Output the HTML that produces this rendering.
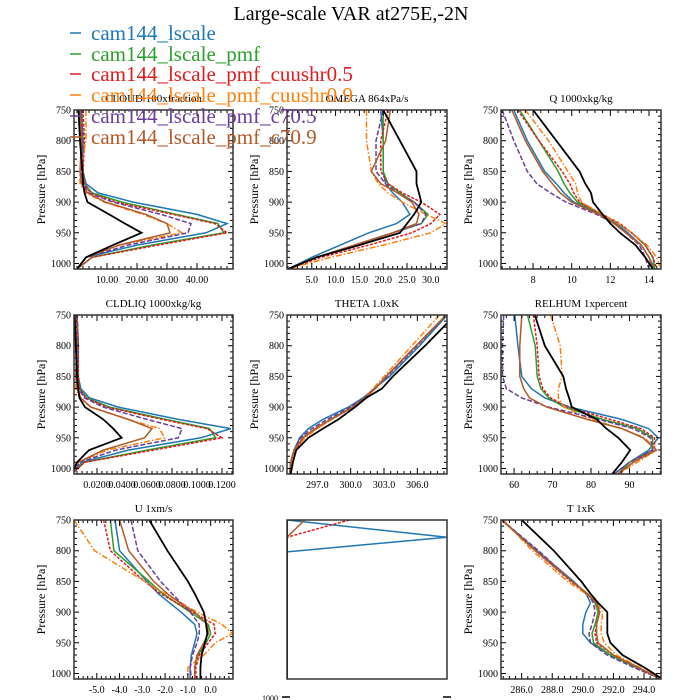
<!DOCTYPE html>
<html><head><meta charset="utf-8"><style>
html,body{margin:0;padding:0;background:#fff;}
svg{display:block;font-family:"Liberation Serif",serif;}
</style></head><body>
<svg id="fig" width="700" height="700" viewBox="0 0 700 700" xmlns="http://www.w3.org/2000/svg">
<text x="351" y="20" font-size="20" text-anchor="middle">Large-scale VAR at275E,-2N</text>
<text x="270" y="701" font-size="8" text-anchor="middle">1000</text>
<path d="M282,697h8M443,697h8" stroke="#000" stroke-width="1.5"/>
</svg>
<script>
const levels = [750,800,850,870,885,900,920,935,950,970,990,1009];
const seriesNames = ["cam144_lscale","cam144_lscale_pmf","cam144_lscale_pmf_cuushr0.5","cam144_lscale_pmf_cuushr0.9","cam144_lscale_pmf_c70.5","cam144_lscale_pmf_c70.9","obs"];
const cloudVals = [
 [1,1.5,2,3,7,18.7,40,50,43,20,3,0],
 [1.5,2,2,2.5,5,15,33,47,49,25,5,0],
 [2,2.5,2,2.5,4.5,13,32,46,50,27,5,0],
 [3,3,1,1,3,9,22,30,35,14,3,0],
 [1.5,2,1.5,2,4,12,28,38,37,17,3,0],
 [1,1.5,1,1.5,3.5,9.5,23,30,31,14,3,0],
 [0.5,1,1.8,2,2.5,3.5,10.7,16,21.5,12,3,0]];
const omegaVals = [
 [19.5,20,20,20.5,22,24,25.6,22.8,17,11,5,0],
 [20,20,20,21,23.5,26.5,29.4,28,22,14,6,0],
 [21,19.5,19.5,21,24,28,31.9,30,26,17,7,0],
 [16.5,16.5,17.5,19,21,24,29,33.2,30,20,9,0],
 [20,18.5,18.5,20.5,23,26.5,29,28,22,14,6,0],
 [21.5,20.5,17.5,19.5,23,26,27.5,27,22,14,6,0],
 [20,23.5,27,27,27.5,28,26.5,25,23.5,15,6,0]];
const qVals = [
 [7.0,7.7,8.6,9.2,9.6,10.1,11.5,12.3,12.9,13.6,14.0,14.3],
 [7.3,8.3,9.3,9.6,9.9,10.3,11.6,12.4,13.1,13.8,14.2,14.3],
 [7.2,8.3,9.5,9.9,10.1,10.4,11.6,12.5,13.1,13.8,14.2,14.4],
 [7.6,8.8,9.8,10.2,10.3,10.5,11.6,12.4,13.1,13.9,14.4,14.6],
 [6.4,7.0,7.7,8.2,8.9,9.7,11.3,12.2,12.8,13.5,13.8,14.0],
 [6.9,7.6,8.5,9.0,9.4,10.0,11.4,12.2,12.8,13.6,14.0,14.2],
 [8.0,9.2,10.4,10.7,11.0,11.1,11.6,12.0,12.5,13.3,13.8,14.2]];
const cldliqVals = [
 [0.004,0.005,0.005,0.007,0.014,0.037,0.085,0.127,0.103,0.045,0.008,0],
 [0.004,0.005,0.005,0.006,0.012,0.030,0.075,0.110,0.115,0.060,0.010,0],
 [0.004,0.005,0.005,0.006,0.011,0.028,0.072,0.108,0.120,0.065,0.010,0],
 [0.004,0.004,0.003,0.003,0.006,0.015,0.045,0.070,0.074,0.028,0.005,0],
 [0.004,0.005,0.004,0.005,0.010,0.025,0.060,0.088,0.085,0.035,0.006,0],
 [0.003,0.004,0.003,0.004,0.007,0.015,0.045,0.064,0.058,0.025,0.005,0],
 [0.002,0.003,0.004,0.005,0.006,0.0104,0.025,0.033,0.0397,0.0136,0.004,0]];
const thetaVals = [
 [308.7,306.2,303.5,302.1,301.1,299.8,297.5,296.2,295.4,294.9,294.6,294.5],
 [308.6,305.9,303.2,302.2,301.3,300.2,298.2,296.8,295.7,294.9,294.6,294.5],
 [308.6,305.9,303.2,302.2,301.3,300.2,298.3,296.9,295.8,295.0,294.6,294.5],
 [308.0,305.5,303.0,302.0,301.2,300.1,298.3,297.0,295.9,295.0,294.7,294.6],
 [308.6,306.0,303.3,302.2,301.2,300.0,297.9,296.5,295.5,294.9,294.6,294.5],
 [308.6,305.9,303.2,302.2,301.3,300.2,298.2,296.8,295.7,294.9,294.6,294.5],
 [309.4,306.7,303.8,302.8,301.4,300.4,298.9,297.5,296.2,295.1,294.8,294.6]];
const relhumVals = [
 [60.2,61,62,64.5,68,74.5,88,95,97.5,95,90,86],
 [63.5,65.5,66,67,69,73,83,92,96,96,90,87],
 [65,66,66.5,67.5,69.5,74,85,93,96.5,96.5,91,87],
 [69.5,72,72.5,71.5,71.5,73,80,88,94,97,92,87],
 [57.3,57,57,58,62,69,82,91,95.5,96,90,86],
 [62,61.5,61.5,62.5,64,68.5,79,88,93.5,97,91,87],
 [65.4,68,72.8,73.5,74.3,75,81.5,84,87.1,90.2,88,85.5]];
const uVals = [
 [-4.2,-4.0,-2.8,-2.3,-1.8,-1.3,-0.7,-0.6,-0.7,-0.85,-0.9,-0.9],
 [-4.4,-4.25,-2.7,-2.1,-1.5,-0.9,-0.1,0.0,-0.2,-0.55,-0.7,-0.7],
 [-4.7,-4.4,-2.9,-2.2,-1.5,-0.8,0.15,0.2,-0.1,-0.5,-0.65,-0.65],
 [-6.0,-5.1,-2.9,-2.0,-1.3,-0.6,0.5,0.95,0.2,-0.3,-1.0,-1.0],
 [-3.5,-3.2,-2.2,-1.7,-1.3,-0.9,-0.5,-0.5,-0.6,-0.8,-0.9,-0.85],
 [-4.0,-3.6,-2.5,-1.9,-1.35,-0.7,-0.15,-0.1,-0.3,-0.6,-0.7,-0.7],
 [-2.7,-1.9,-1.0,-0.7,-0.5,-0.3,-0.2,-0.15,-0.25,-0.4,-0.45,-0.45]];
const tVals = [
 [284.7,287.0,289.4,290.2,290.5,290.2,290.0,290.0,290.5,291.8,293.5,295.1],
 [284.7,286.9,289.3,290.3,290.8,291.0,290.8,290.6,290.7,291.8,293.5,295.1],
 [284.7,286.9,289.2,290.3,290.9,291.1,290.9,290.8,290.9,292.0,293.6,295.1],
 [284.8,286.7,289.0,290.2,290.9,291.3,291.2,291.2,291.4,292.2,293.7,295.1],
 [284.7,287.1,289.3,290.3,290.7,290.8,290.6,290.4,290.5,291.6,293.3,295.1],
 [284.7,286.9,289.3,290.3,290.9,291.1,290.9,290.9,291.0,292.0,293.6,295.1],
 [286.0,288.1,289.9,290.5,291.0,291.6,291.6,291.6,291.8,292.6,294.0,295.2]];
const extraLevels = [750,778,802,1009];
const extraVals = [
 [0,1,0,0],
 [0,0,0,0],
 [0.39,0,0,0],
 [0,0,0,0],
 [0,0,0,0],
 [0.11,0,0,0],
 [0,0,0,0]];
const yTicks = [750,800,850,900,950,1000];
const cloudTicks = [10,20,30,40], cloudLabels = ["10.00","20.00","30.00","40.00"];
const omegaTicks = [5,10,15,20,25,30], omegaLabels = ["5.0","10.0","15.0","20.0","25.0","30.0"];
const qTicks = [8,10,12,14], qLabels = ["8","10","12","14"];
const cldliqTicks = [0.02,0.04,0.06,0.08,0.10,0.12], cldliqLabels = ["0.0200","0.0400","0.0600","0.0800","0.1000","0.1200"];
const thetaTicks = [297,300,303,306], thetaLabels = ["297.0","300.0","303.0","306.0"];
const relhumTicks = [60,70,80,90], relhumLabels = ["60","70","80","90"];
const uTicks = [-5,-4,-3,-2,-1,0], uLabels = ["-5.0","-4.0","-3.0","-2.0","-1.0","0.0"];
const tTicks = [286,288,290,292,294], tLabels = ["286.0","288.0","290.0","292.0","294.0"];

const colors = ["#1f77b4","#2ca02c","#e31a1c","#ff7f0e","#6a3d9a","#b15928","#000000"];
const dashes = [null,null,"3,1.5","6,2,1.5,2","5,2",null,null];
const NS = "http://www.w3.org/2000/svg";
const svg = document.getElementById("fig");
function mk(tag, attrs, parent){const e=document.createElementNS(NS,tag);for(const k in attrs)e.setAttribute(k,attrs[k]);(parent||svg).appendChild(e);return e;}

const cols=[[74,233],[287,447],[501,661]], rows=[110,315,520], H=159;
const panels=[
 {name:"cloud",title:"CLOUD  100xfraction",c:0,r:0,xmin:-1,xmax:52,ticks:cloudTicks,labels:cloudLabels,vals:cloudVals,lev:levels,yl:true},
 {name:"omega",title:"OMEGA  864xPa/s",c:1,r:0,xmin:-0.2,xmax:33.4,ticks:omegaTicks,labels:omegaLabels,vals:omegaVals,lev:levels,yl:true},
 {name:"q",title:"Q  1000xkg/kg",c:2,r:0,xmin:6.34,xmax:14.62,ticks:qTicks,labels:qLabels,vals:qVals,lev:levels,yl:true},
 {name:"cldliq",title:"CLDLIQ  1000xkg/kg",c:0,r:1,xmin:0.0016,xmax:0.1288,ticks:cldliqTicks,labels:cldliqLabels,vals:cldliqVals,lev:levels,yl:true},
 {name:"theta",title:"THETA  1.0xK",c:1,r:1,xmin:294.27,xmax:308.67,ticks:thetaTicks,labels:thetaLabels,vals:thetaVals,lev:levels,yl:true},
 {name:"relhum",title:"RELHUM  1xpercent",c:2,r:1,xmin:56.6,xmax:98.2,ticks:relhumTicks,labels:relhumLabels,vals:relhumVals,lev:levels,yl:true},
 {name:"u",title:"U  1xm/s",c:0,r:2,xmin:-6.0,xmax:0.98,ticks:uTicks,labels:uLabels,vals:uVals,lev:levels,yl:true},
 {name:"extra",title:"",c:1,r:2,xmin:0,xmax:1,ticks:[],labels:[],vals:extraVals,lev:extraLevels,yl:false},
 {name:"t",title:"T  1xK",c:2,r:2,xmin:284.65,xmax:295.11,ticks:tTicks,labels:tLabels,vals:tVals,lev:levels,yl:true}
];
const pmin=750,pmax=1009;
panels.forEach(p=>{
 const x0=cols[p.c][0],x1=cols[p.c][1],y0=rows[p.r],y1=y0+H;
 const xs=v=>x0+(v-p.xmin)/(p.xmax-p.xmin)*(x1-x0);
 const ys=v=>y0+(v-pmin)/(pmax-pmin)*H;
 const g=mk("g",{});
 
 
 if(p.title){const t=mk("text",{x:(x0+x1)/2,y:y0-8,"font-size":11,"text-anchor":"middle"},g);t.textContent=p.title;
  
  }
 if(p.yl){
 const yt=mk("text",{x:0,y:0,"font-size":12,"text-anchor":"middle",transform:`translate(${x0-29},${(y0+y1)/2}) rotate(-90)`},g);
 yt.textContent="Pressure [hPa]";
 
 
 }
 const clip=mk("clipPath",{id:"clip-"+p.name},g);mk("rect",{x:x0,y:y0,width:x1-x0,height:H},clip);
 const sg=mk("g",{"clip-path":`url(#clip-${p.name})`},g);
 p.vals.forEach((arr,i)=>{
  const pts=arr.map((v,j)=>xs(v).toFixed(1)+","+ys(p.lev[j]).toFixed(1)).join(" ");
  const a={points:pts,fill:"none",stroke:colors[i],"stroke-width":i==6?1.8:1.5};
  if(dashes[i])a["stroke-dasharray"]=dashes[i];
  const l=mk("polyline",a,sg);
  
  
 });
 let d="";
 if(p.yl){
 for(let v=pmin;v<=1000;v+=10){const y=ys(v);const L=(v%50==0)?5:3;d+=`M${x0},${y}h${L}M${x1},${y}h${-L}`;}
 }
 if(p.ticks.length>1){const step=p.ticks[1]-p.ticks[0];const ms=step/5;
  for(let v=p.ticks[0]-step*3;v<=p.xmax;v+=ms){if(v<p.xmin)continue;const x=xs(v);d+=`M${x},${y1}v-3M${x},${y0}v3`;}
  p.ticks.forEach(v=>{const x=xs(v);d+=`M${x},${y1}v-6M${x},${y0}v6`;});}
 if(d) mk("path",{d:d,stroke:"#000","stroke-width":1,fill:"none"},g);
 const box=mk("rect",{x:x0,y:y0,width:x1-x0,height:H,fill:"none",stroke:"#333","stroke-width":1.5},g);
 
 
 if(p.yl){
 yTicks.forEach(v=>{const t=mk("text",{x:x0-3,y:ys(v)+3.5,"font-size":10,"text-anchor":"end"},g);t.textContent=v;
  
  });
 }
 p.ticks.forEach((v,k)=>{const t=mk("text",{x:xs(v),y:y1+14,"font-size":10,"text-anchor":"middle"},g);t.textContent=p.labels[k];
  
  });
});
const lg=mk("g",{});


const legY=[33,54,74,95,116,137];
for(let i=0;i<6;i++){
 mk("line",{x1:70,x2:81,y1:legY[i],y2:legY[i],stroke:colors[i],"stroke-width":1.5},lg);
 const t=mk("text",{x:91,y:legY[i]+7,"font-size":21,fill:colors[i]},lg);
 t.textContent=seriesNames[i];
 
 
}
</script>
</body></html>
